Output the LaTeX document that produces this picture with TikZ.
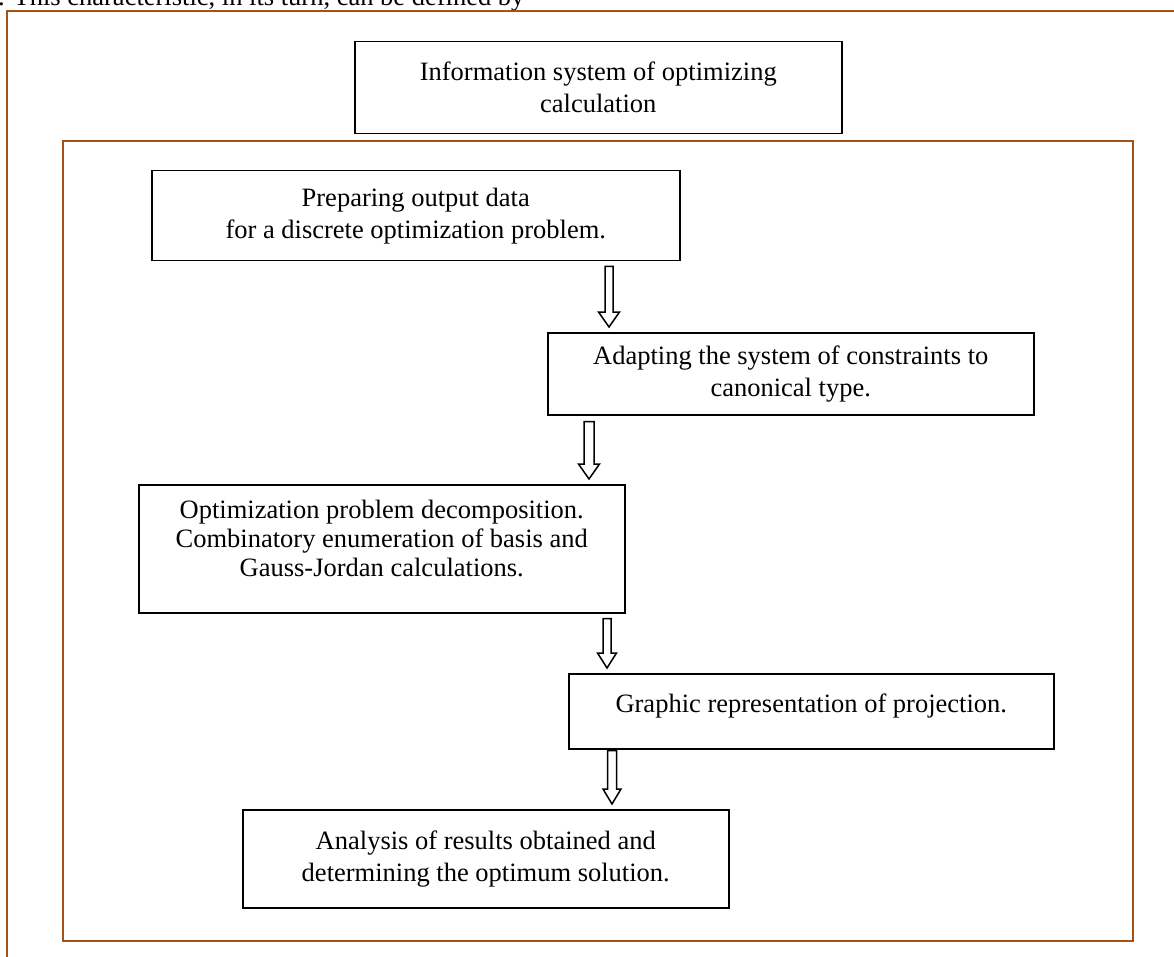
\documentclass[tikz,border=0pt]{standalone}
\usepackage{fontspec}
\setmainfont{Liberation Serif}
\usetikzlibrary{calc}
\definecolor{framebrown}{RGB}{165,82,22}
\newcommand\blockarrow[6]{%
 \draw[arrowline]
  ($(#1.south -| #3,0)+(-#5,#4)$) -- ($(#1.south -| #3,0)+(#5,#4)$) --
  ($(#2.north -| #3,0)+(#5,-20)$) -- ($(#2.north -| #3,0)+(#6,-20)$) --
  ($(#2.north -| #3,0)+(0,-5)$) -- ($(#2.north -| #3,0)+(-#6,-20)$) --
  ($(#2.north -| #3,0)+(-#5,-20)$) -- cycle;}
\begin{document}
\begin{tikzpicture}[x=1pt,y=-1pt,
  txt/.style={font=\fontsize{26.5}{32}\selectfont},
  box/.style={txt, draw=black, line width=1.5pt, fill=white, inner sep=0pt,
    align=center, anchor=north west},
  framebox/.style={draw=framebrown, line width=2pt, inner sep=0pt, anchor=north west},
  arrowline/.style={draw=black, fill=white, line width=1.5pt, line join=miter}]
\useasboundingbox (0,0) rectangle (1174,957);
\clip (0,0) rectangle (1174,957);
\fill[white] (0,0) rectangle (1174,957);
\node[txt, anchor=base west, inner sep=0pt] (intro) at (-2,6) {. This characteristic, in its turn, can be defined by};
\node[framebox, minimum width=1200pt, minimum height=1000pt] (outer) at (6,10) {};
\node[framebox, minimum width=1070pt, minimum height=800pt] (inner) at (62,140) {};
\node[box, minimum width=487pt, minimum height=92pt] (title) at (354,41) {Information system of optimizing\\calculation};
\node[box, minimum width=528pt, minimum height=90pt] (b1) at (151,170) {Preparing output data\\for a discrete optimization problem.};
\node[box, minimum width=486pt, minimum height=82pt] (b2) at (547,332) {Adapting the system of constraints to\\canonical type.};
\node[box, minimum width=486pt, minimum height=128pt, font=\fontsize{26.5}{29}\selectfont, text depth=21pt] (b3) at (138,484) {Optimization problem decomposition.\\Combinatory enumeration of basis and\\Gauss-Jordan calculations.};
\node[box, minimum width=485pt, minimum height=75pt, text depth=17pt] (b4) at (568,673) {Graphic representation of projection.};
\node[box, minimum width=486pt, minimum height=98pt] (b5) at (242,809) {Analysis of results obtained and\\determining the optimum solution.};
\blockarrow{b1}{b2}{609}{5}{4}{10.5}
\blockarrow{b2}{b3}{589}{6}{5}{10.5}
\blockarrow{b3}{b4}{607}{5}{4}{9.5}
\blockarrow{b4}{b5}{612}{1}{4.5}{9}
\end{tikzpicture}
\end{document}
